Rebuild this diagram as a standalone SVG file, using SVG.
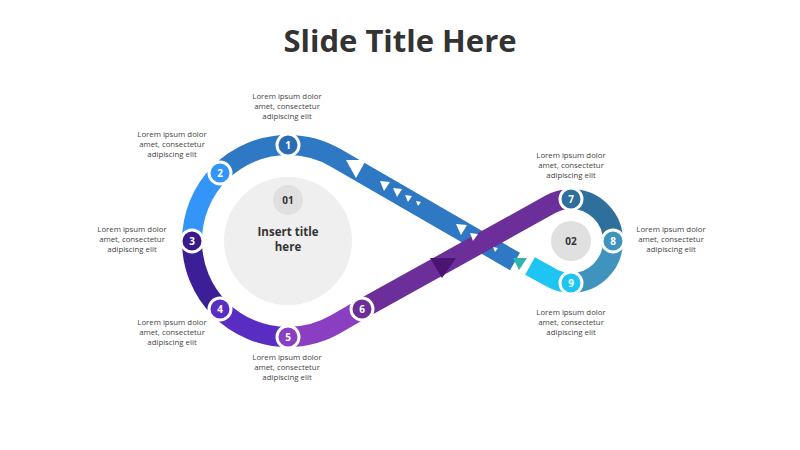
<svg xmlns="http://www.w3.org/2000/svg" width="800" height="450" viewBox="0 0 800 450">
<style>
.t{font-family:"Open Sans","Liberation Sans",sans-serif;font-size:7.8px;fill:#444;text-anchor:middle}
.s{fill:none;stroke-width:20}
.n{stroke:#fff;stroke-width:3}
.nt{font-family:"Open Sans","Liberation Sans",sans-serif;font-size:10px;font-weight:bold;fill:#fff;text-anchor:middle}
.w{fill:#fff}
</style>
<rect width="800" height="450" fill="#fff"/>
<text x="400" y="52" font-family="'Open Sans','Liberation Sans',sans-serif" font-size="31" font-weight="bold" fill="#333" text-anchor="middle">Slide Title Here</text>
<g id="connectors">
<path class="s" stroke="#2f78c4" d="M288 145 A96 96 0 0 1 336 158 L515 261.5"/>
<path class="s" stroke="#2f78c4" d="M288 145 A96 96 0 0 0 220 173"/>
<path class="s" stroke="#3395f7" d="M220 173 A96 96 0 0 0 192 241"/>
<path class="s" stroke="#3c1e96" d="M192 241 A96 96 0 0 0 220 309"/>
<path class="s" stroke="#5a2dc2" d="M220 309 A96 96 0 0 0 288 337"/>
<path class="s" stroke="#8a3ec2" d="M288 337 A96 96 0 0 0 336 324 L362 309"/>
<path class="s" stroke="#6c2f99" d="M360 310 L550 204.6 A42 42 0 0 1 571 199"/>
<path class="s" stroke="#2e6f9b" d="M571 199 A42 42 0 0 1 613 241"/>
<path class="s" stroke="#3f93bc" d="M613 241 A42 42 0 0 1 571 283"/>
<path class="s" stroke="#1ec5f2" d="M571 283 A42 42 0 0 1 550 277 L530 266"/>
<polygon class="w" points="346,160 366,160 356,178"/>
<polygon class="w" points="380,181 390,182 384,191"/>
<polygon class="w" points="393,188 402,189 397,197"/>
<polygon class="w" points="405,195 412,196 408,202"/>
<polygon class="w" points="416,201 421,202 418,206"/>
<polygon class="w" points="456,224 467,225 461,235"/>
<polygon class="w" points="470,233 478,234 473,241"/>
<polygon class="w" points="493,247 498,248 495,252"/>
<polygon fill="#2eb5a8" points="513,258 527,258 519,270"/>
<polygon fill="#4a1470" points="430,258 456,258 442,278"/>
</g>
<g id="center1"><circle cx="288" cy="241" r="64" fill="#efefef"/><circle cx="288" cy="200" r="15" fill="#e0e0e0"/>
<text x="288" y="204" font-family="'Open Sans','Liberation Sans',sans-serif" font-size="10" font-weight="bold" fill="#333" text-anchor="middle">01</text>
<text x="288" y="236" font-family="'Open Sans','Liberation Sans',sans-serif" font-size="11.5" font-weight="bold" fill="#333" text-anchor="middle">Insert title</text>
<text x="288" y="251" font-family="'Open Sans','Liberation Sans',sans-serif" font-size="11.5" font-weight="bold" fill="#333" text-anchor="middle">here</text></g>
<g id="center2"><circle cx="571" cy="241" r="20" fill="#e0e0e0"/><text x="571" y="245" font-family="'Open Sans','Liberation Sans',sans-serif" font-size="10" font-weight="bold" fill="#333" text-anchor="middle">02</text></g>
<g id="n1"><circle class="n" cx="288" cy="145" r="11" fill="#2a6db3"/><text class="nt" x="288" y="149">1</text></g>
<g id="n2"><circle class="n" cx="220" cy="173" r="11" fill="#3395f7"/><text class="nt" x="220" y="177">2</text></g>
<g id="n3"><circle class="n" cx="192" cy="241" r="11" fill="#3a1a8a"/><text class="nt" x="192" y="245">3</text></g>
<g id="n4"><circle class="n" cx="220" cy="309" r="11" fill="#5a2dc2"/><text class="nt" x="220" y="313">4</text></g>
<g id="n5"><circle class="n" cx="288" cy="337" r="11" fill="#8a3ec2"/><text class="nt" x="288" y="341">5</text></g>
<g id="n6"><circle class="n" cx="362" cy="309" r="11" fill="#6c2f99"/><text class="nt" x="362" y="313">6</text></g>
<g id="n7"><circle class="n" cx="571" cy="199" r="11" fill="#2e6f9b"/><text class="nt" x="571" y="203">7</text></g>
<g id="n8"><circle class="n" cx="613" cy="241" r="11" fill="#3f93bc"/><text class="nt" x="613" y="245">8</text></g>
<g id="n9"><circle class="n" cx="571" cy="283" r="11" fill="#1ec5f2"/><text class="nt" x="571" y="287">9</text></g>
<g id="labels">
<text class="t" x="287" y="99">Lorem ipsum dolor</text><text class="t" x="287" y="109">amet, consectetur</text><text class="t" x="287" y="119">adipiscing elit</text>
<text class="t" x="172" y="137">Lorem ipsum dolor</text><text class="t" x="172" y="147">amet, consectetur</text><text class="t" x="172" y="157">adipiscing elit</text>
<text class="t" x="132" y="232">Lorem ipsum dolor</text><text class="t" x="132" y="242">amet, consectetur</text><text class="t" x="132" y="252">adipiscing elit</text>
<text class="t" x="172" y="325">Lorem ipsum dolor</text><text class="t" x="172" y="335">amet, consectetur</text><text class="t" x="172" y="345">adipiscing elit</text>
<text class="t" x="287" y="360">Lorem ipsum dolor</text><text class="t" x="287" y="370">amet, consectetur</text><text class="t" x="287" y="380">adipiscing elit</text>
<text class="t" x="571" y="158">Lorem ipsum dolor</text><text class="t" x="571" y="168">amet, consectetur</text><text class="t" x="571" y="178">adipiscing elit</text>
<text class="t" x="671" y="232">Lorem ipsum dolor</text><text class="t" x="671" y="242">amet, consectetur</text><text class="t" x="671" y="252">adipiscing elit</text>
<text class="t" x="571" y="315">Lorem ipsum dolor</text><text class="t" x="571" y="325">amet, consectetur</text><text class="t" x="571" y="335">adipiscing elit</text>
</g>
</svg>
